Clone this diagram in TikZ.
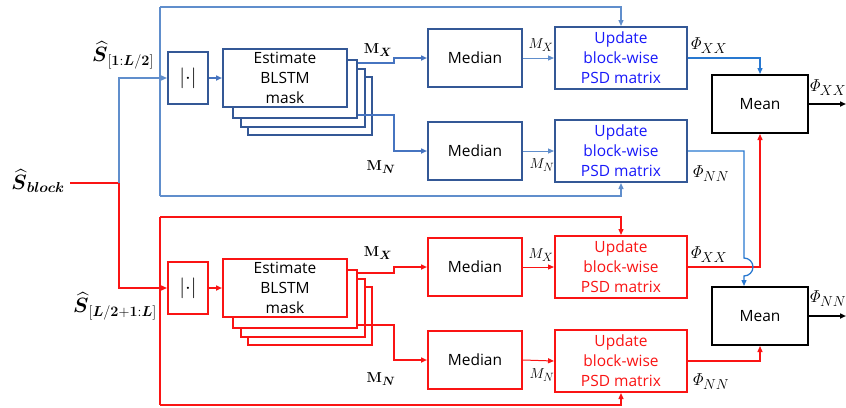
\documentclass[tikz,border=0pt]{standalone}
\usepackage{amsmath}
\usepackage[no-math]{fontspec}
\setmainfont{Open Sans}
\usetikzlibrary{arrows.meta}
\DeclareMathSizes{20}{20}{15.5}{12}
\DeclareMathSizes{17}{17}{13.5}{10}
\DeclareMathSizes{14}{14}{11.5}{9}
\DeclareMathSizes{22}{22}{16}{12}
\definecolor{frameblue}{RGB}{96,142,204}
\definecolor{boxblue}{RGB}{52,88,150}
\definecolor{maskblue}{RGB}{70,116,192}
\definecolor{phiblue}{RGB}{40,120,208}
\definecolor{txtblue}{RGB}{25,25,250}
\definecolor{myred}{RGB}{250,20,20}
\begin{document}
\begin{tikzpicture}[x=1pt,y=-1pt,
  tip/.style={-{Triangle[length=6pt,width=5pt]}},
  blk/.style={draw, line width=2pt, fill=white, inner sep=0pt, align=center,
    font=\fontsize{15.5}{20}\selectfont},
  absbox/.style={blk, minimum width=40pt, minimum height=52pt, font=\fontsize{22}{24}\selectfont},
  estbox/.style={blk, minimum width=124pt, minimum height=58pt},
  medbox/.style={blk, minimum width=94pt, minimum height=58pt},
  updbox/.style={blk, minimum width=132pt, minimum height=62pt},
  meanbox/.style={blk, draw=black, minimum width=96pt, minimum height=58pt},
  lab/.style={font=\fontsize{17}{19}\selectfont, inner sep=1pt},
  mlab/.style={font=\fontsize{14}{16}\selectfont, inner sep=1pt},
  biglab/.style={font=\fontsize{20}{22}\selectfont, inner sep=1pt}
]
\useasboundingbox (0,0) rectangle (846,407);

% ---------------- upper (blue) branch ----------------
\node[absbox, draw=boxblue] (absU) at (188,78) {$|{\cdot}|$};
\node[estbox, draw=boxblue] (estU4) at (310,106) {};
\node[estbox, draw=boxblue] (estU3) at (303,98) {};
\node[estbox, draw=boxblue] (estU2) at (295,89) {};
\node[estbox, draw=boxblue] (estU) at (285,78) {Estimate\\BLSTM\\mask};
\node[medbox, draw=boxblue] (medXU) at (475,58) {Median};
\node[medbox, draw=boxblue] (medNU) at (475,151) {Median};
\node[updbox, draw=boxblue, text=txtblue] (updXU) at (621,58) {Update\\block-wise\\PSD matrix};
\node[updbox, draw=boxblue, text=txtblue] (updNU) at (621,151) {Update\\block-wise\\PSD matrix};

% ---------------- lower (red) branch ----------------
\node[absbox, draw=myred] (absL) at (188,288) {$|{\cdot}|$};
\node[estbox, draw=myred] (estL4) at (310,316) {};
\node[estbox, draw=myred] (estL3) at (303,308) {};
\node[estbox, draw=myred] (estL2) at (295,299) {};
\node[estbox, draw=myred] (estL) at (285,288) {Estimate\\BLSTM\\mask};
\node[medbox, draw=myred] (medXL) at (475,267) {Median};
\node[medbox, draw=myred] (medNL) at (475,360) {Median};
\node[updbox, draw=myred, text=myred] (updXL) at (621,267) {Update\\block-wise\\PSD matrix};
\node[updbox, draw=myred, text=myred] (updNL) at (621,361) {Update\\block-wise\\PSD matrix};

% ---------------- mean boxes ----------------
\node[meanbox] (meanX) at (760,104) {Mean};
\node[meanbox] (meanN) at (760,316) {Mean};

% ---------------- input labels ----------------
\node[biglab] (sblock) at (38,181) {$\boldsymbol{\widehat{S}}_{\boldsymbol{block}}$};
\node[biglab] (sU) at (123,55) {$\boldsymbol{\widehat{S}}_{[\mathbf{1}:\boldsymbol{L}/\mathbf{2}]}$};
\node[biglab] (sL) at (115,306) {$\boldsymbol{\widehat{S}}_{[\boldsymbol{L}/\mathbf{2}+\mathbf{1}:\boldsymbol{L}]}$};

\coordinate (split) at (119,183);

% input wiring
\draw[myred, line width=1.3pt] (70,183) -- (split);
\draw[myred, line width=1.3pt, tip] (split) |- (absL.west);
\draw[frameblue, line width=1.3pt, tip] (split) |- (absU.west);

% frames (blue)
\draw[frameblue, line width=1.3pt] (160,7) -- (160,196);
\draw[frameblue, line width=1.3pt, tip] (160,7) -| (updXU.north);
\draw[frameblue, line width=1.3pt, tip] (160,196) -| (updNU.south);
% frames (red)
\draw[myred, line width=1.3pt] (160,217) -- (160,405);
\draw[myred, line width=1.3pt, tip] (160,217) -| (updXL.north);
\draw[myred, line width=1.3pt, tip] (160,405) -| (updNL.south);

% abs -> estimate
\draw[maskblue, line width=2pt, tip] (absU.east) -- (estU.west);
\draw[myred, line width=2pt, tip] (absL.east) -- (estL.west);

% mask outputs
\draw[maskblue, line width=2.4pt, tip] ([yshift=-4pt]estU2.north east) -- ++(36,0) |- (medXU.west);
\draw[maskblue, line width=2.4pt, tip] ([yshift=4pt]estU2.south east) -- ++(36,0) |- (medNU.west);
\draw[myred, line width=2.4pt, tip] ([yshift=-4pt]estL2.north east) -- ++(36,0) |- (medXL.west);
\draw[myred, line width=2.4pt, tip] ([yshift=4pt]estL2.south east) -- ++(36,0) |- (medNL.west);
\node[mlab] (mxU) at (378,50) {$\mathbf{M}_{\boldsymbol{X}}$};
\node[mlab] (mnU) at (381,167) {$\mathbf{M}_{\boldsymbol{N}}$};
\node[mlab] (mxL) at (378,253) {$\mathbf{M}_{\boldsymbol{X}}$};
\node[mlab] (mnL) at (381,379) {$\mathbf{M}_{\boldsymbol{N}}$};

% median -> update
\draw[frameblue, line width=1pt, tip] (medXU.east) -- (updXU.west);
\draw[frameblue, line width=1pt, tip] (medNU.east) -- (updNU.west);
\draw[myred, line width=1pt, tip] (medXL.east) -- (updXL.west);
\draw[myred, line width=1pt, tip] (medNL.east) -- (updNL.west);
\node[mlab] (lmxU) at (541,45) {$M_X$};
\node[mlab] (lmnU) at (542,165) {$M_N$};
\node[mlab] (lmxL) at (541,255) {$M_X$};
\node[mlab] (lmnL) at (542,375) {$M_N$};

% update -> mean
\draw[phiblue, line width=1.3pt, tip] (updXU.east) -| (meanX.north);
\draw[myred, line width=1.3pt, tip] (updXL.east) -| (meanX.south);
\draw[myred, line width=1.3pt, tip] (updNL.east) -| (meanN.south);
\draw[phiblue, line width=1.3pt, tip] (updNU.east) -- (744,151) -- (744,258)
   arc[start angle=90, end angle=-90, radius=9pt] -- ([xshift=-16pt]meanN.north);
\node[lab] (pxxU) at (708,46) {$\mathit{\Phi}_{XX}$};
\node[lab] (pnnU) at (710,174) {$\mathit{\Phi}_{NN}$};
\node[lab] (pxxL) at (708,255) {$\mathit{\Phi}_{XX}$};
\node[lab] (pnnL) at (710,382) {$\mathit{\Phi}_{NN}$};

% outputs
\coordinate (outX) at (846,104);
\coordinate (outN) at (846,316);
\draw[black, line width=2.4pt, tip] (meanX.east) -- (outX);
\draw[black, line width=2.4pt, tip] (meanN.east) -- (outN);
\node[lab] (pxxO) at (827,88) {$\mathit{\Phi}_{XX}$};
\node[lab] (pnnO) at (827,299) {$\mathit{\Phi}_{NN}$};
\end{tikzpicture}
\end{document}
